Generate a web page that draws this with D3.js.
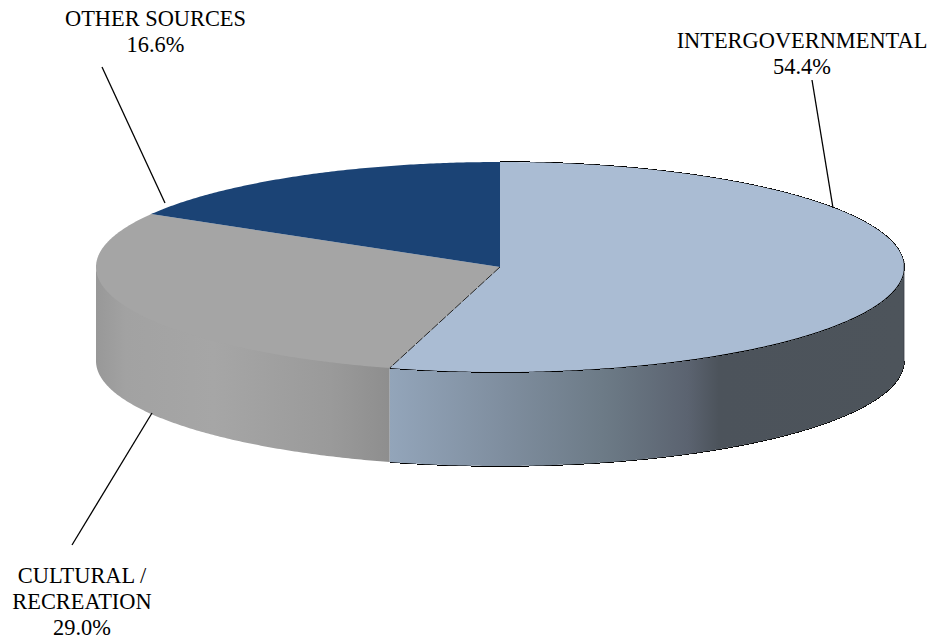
<!DOCTYPE html>
<html><head><meta charset="utf-8">
<script src="https://cdn.jsdelivr.net/npm/d3@7"></script>
<style>html,body{margin:0;padding:0;background:#fff}svg{display:block}text{font-family:"Liberation Serif",serif;font-size:22.4px;fill:#000;text-anchor:middle}</style>
</head><body><svg id="c" width="934" height="641"></svg>
<script>
const categories=["INTERGOVERNMENTAL","CULTURAL / RECREATION","OTHER SOURCES"];
const shares=[54.4,29.0,16.6];
const topColors=["#aabcd3","#a5a5a5","#1b4375"];
const blueStops=[[0,"#93a5ba"],[0.22,"#7f8e9f"],[0.42,"#6c7a86"],[0.58,"#5b6370"],[0.64,"#4c535b"],[1,"#4d545b"]];
const greyStops=[[0,"#989898"],[0.1,"#a2a2a2"],[0.4,"#a6a6a6"],[0.8,"#9a9a9a"],[1,"#8e8e8e"]];
const labelLines=[["INTERGOVERNMENTAL","54.4%"],["CULTURAL /","RECREATION","29.0%"],["OTHER SOURCES","16.6%"]];
const labelAnchors=[[802,48],[82,583],[155.5,26]];
const leaderLines=[[[812,80],[833,208]],[[152,413],[72,545]],[[102,67],[165,203]]];

const cx=500,cy=267,rx=404,ry=105,depth=94,grow=0.28;
const svg=d3.select("#c"),defs=svg.append("defs");
const pie=d3.pie().sort(null).value(d=>d);
const arcs=pie(shares);
const sx=d3.scaleLinear().domain([-1,1]).range([cx-rx,cx+rx]);
const sy=d3.scaleLinear().domain([-1,1]).range([cy-ry,cy+ry]);
const px=a=>sx(Math.sin(a)), py=a=>sy(-Math.cos(a));
function rim(a0,a1,dy,g=0){const n=Math.max(2,Math.ceil(Math.abs(a1-a0)*120));
  return d3.range(n+1).map(i=>{const a=a0+(a1-a0)*i/n;
    return [px(a)+g*Math.sin(a),py(a)-g*Math.cos(a)+dy];});}
const line=d3.line();
function grad(id,x0,x1,stops){const g=defs.append("linearGradient").attr("id",id).attr("gradientUnits","userSpaceOnUse")
  .attr("x1",x0).attr("x2",x1).attr("y1",0).attr("y2",0);
  stops.forEach(s=>g.append("stop").attr("offset",s[0]).attr("stop-color",s[1]));}
const PI=Math.PI;
const blueA0=PI/2,blueA1=arcs[0].endAngle,greyA0=arcs[1].startAngle,greyA1=3*PI/2;
grad("gb",px(blueA1),sx(1),blueStops);
grad("gg",sx(-1),px(greyA0),greyStops);
function wall(a0,a1){return line(rim(a0,a1,-2).concat(rim(a1,a0,depth)))+"Z";}
function edge(pts){svg.append("path").attr("d",line(pts)).attr("fill","none").attr("stroke","#000")
  .attr("stroke-width",1).attr("shape-rendering","crispEdges");}
// edges sit under the fills, so only stair-step slivers stay visible
edge(rim(blueA0,blueA1,depth,grow));
svg.append("path").attr("d",wall(greyA0,greyA1)).attr("fill","url(#gg)");
svg.append("path").attr("d",wall(blueA0,blueA1)).attr("fill","url(#gb)");
edge(rim(arcs[0].startAngle,arcs[0].endAngle,0,grow));
const tops=svg.append("g");
arcs.forEach((d,i)=>{
  const pts=[[cx,cy]].concat(rim(d.startAngle,d.endAngle,0));
  tops.append("path").attr("d",line(pts)+"Z").attr("fill",topColors[i]);
});
svg.append("path").attr("d",line([[cx,cy],[px(blueA1),py(blueA1)]])).attr("fill","none").attr("stroke","#111")
  .attr("stroke-width",0.9).attr("stroke-dasharray","9 1.5");
svg.append("path").attr("d",line([[sx(1),cy-6],[sx(1),cy+depth+4]])).attr("stroke","#3a4046").attr("stroke-width",0.8).attr("fill","none");
svg.append("g").selectAll("line").data(leaderLines).join("line")
  .attr("x1",d=>d[0][0]).attr("y1",d=>d[0][1]).attr("x2",d=>d[1][0]).attr("y2",d=>d[1][1])
  .attr("stroke","#000").attr("stroke-width",1.3);
labelLines.forEach((ls,i)=>{
  const t=svg.append("text").attr("x",labelAnchors[i][0]).attr("y",labelAnchors[i][1]);
  ls.forEach((s,j)=>t.append("tspan").attr("x",labelAnchors[i][0]).attr("dy",j?26:0).text(s));
});
</script></body></html>
